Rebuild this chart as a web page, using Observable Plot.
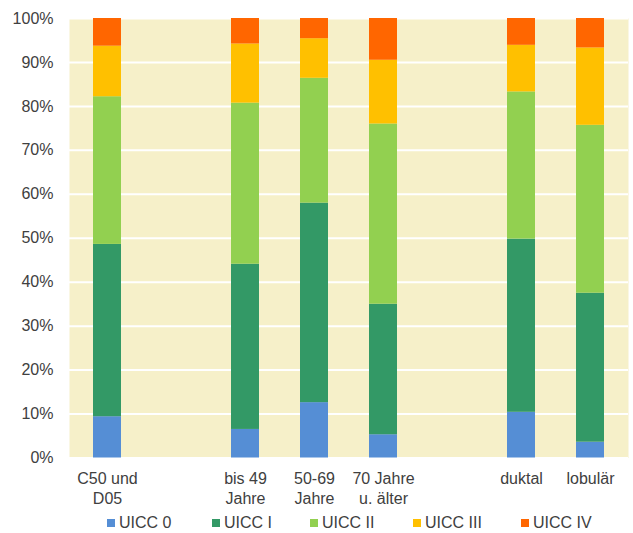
<!DOCTYPE html>
<html>
<head>
<meta charset="utf-8">
<script src="https://cdn.jsdelivr.net/npm/d3@7"></script>
<script src="https://cdn.jsdelivr.net/npm/@observablehq/plot@0.6"></script>
<style>
  body { margin: 0; background: #fff; font-family: "Liberation Sans", Arial, sans-serif; }
  #legend { height: 21px; font-size: 16px; color: #404040; position: relative; }
  .item { position: absolute; top: 2px; display: flex; align-items: center; line-height: 18px; }
  .sw { width: 8px; height: 8px; margin-right: 4px; }
</style>
</head>
<body>
<div id="chart"></div>
<div id="legend"></div>
<script>
// slots (including two empty gaps)
const slots = ["C50", "gap1", "bis49", "50-69", "70+", "gap2", "duktal", "lobulaer"];
const slotLabels = ["C50 und\nD05", "", "bis 49\nJahre", "50-69\nJahre", "70 Jahre\nu. älter", "", "duktal", "lobulär"];
const categories = ["C50", "bis49", "50-69", "70+", "duktal", "lobulaer"];
const series = ["UICC 0", "UICC I", "UICC II", "UICC III", "UICC IV"];
const colors = ["#558ED5", "#339966", "#92D050", "#FFC000", "#FF6600"];
// percentages per series, in category order
const uicc0   = [9.4, 6.5, 12.6, 5.3, 10.4, 3.6];
const uicc1   = [39.2, 37.6, 45.4, 29.7, 39.4, 33.9];
const uicc2   = [33.6, 36.65, 28.4, 41.0, 33.5, 38.2];
const uicc3   = [11.5, 13.45, 9.0, 14.5, 10.6, 17.6];
const uicc4   = [6.3, 5.8, 4.6, 9.5, 6.1, 6.7];
const yTicks = [0, 10, 20, 30, 40, 50, 60, 70, 80, 90, 100];

const valuesBySeries = [uicc0, uicc1, uicc2, uicc3, uicc4];
const data = [];
series.forEach((s, si) => {
  categories.forEach((c, ci) => {
    data.push({cat: c, series: s, value: valuesBySeries[si][ci]});
  });
});

const labelOf = new Map(slots.map((s, i) => [s, slotLabels[i]]));

const chart = Plot.plot({
  width: 633,
  height: 512,
  marginTop: 18,
  marginBottom: 54.5,
  marginLeft: 69,
  marginRight: 5,
  style: {fontFamily: "'Liberation Sans', Arial, sans-serif", fontSize: "16px", color: "#404040", background: "#fff"},
  x: {domain: slots, paddingInner: 0.6, paddingOuter: 0.3, align: 0.5},
  y: {domain: [0, 100]},
  color: {domain: series, range: colors},
  marks: [
    Plot.frame({fill: "#F6F0C9", stroke: null}),
    Plot.gridY(yTicks, {stroke: "#fff", strokeOpacity: 1, strokeWidth: 2}),
    Plot.barY(data, Plot.stackY({order: series}, {x: "cat", y: "value", fill: "series"})),
    Plot.axisY(yTicks, {tickSize: 0, tickPadding: 16, tickFormat: d => d + "%", label: null, fontSize: 16}),
    Plot.axisX({tickSize: 0, tickPadding: 12, tickFormat: d => labelOf.get(d), label: null, lineHeight: 1.25, fontSize: 16})
  ]
});
document.getElementById("chart").appendChild(chart);

const legend = document.getElementById("legend");
const lx = [107, 212, 310, 413, 521];
series.forEach((s, i) => {
  const it = document.createElement("div");
  it.className = "item";
  it.style.left = lx[i] + "px";
  const sw = document.createElement("span");
  sw.className = "sw";
  sw.style.background = colors[i];
  const t = document.createElement("span");
  t.textContent = s;
  it.appendChild(sw);
  it.appendChild(t);
  legend.appendChild(it);
});
</script>
</body>
</html>
